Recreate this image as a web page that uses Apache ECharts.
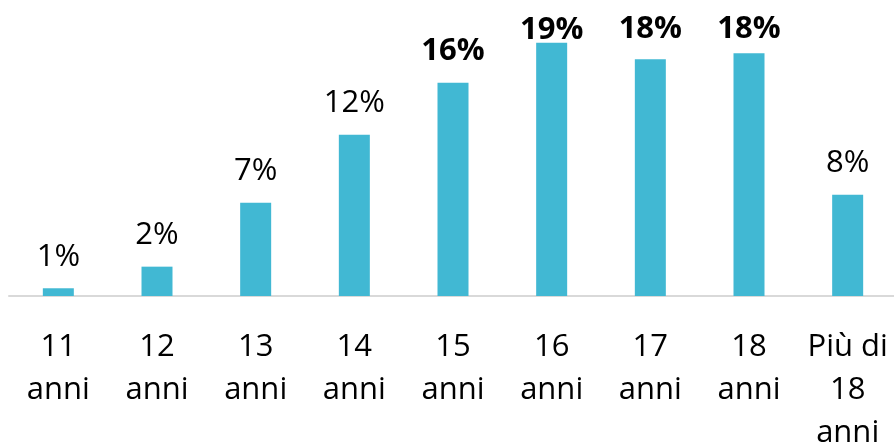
<!DOCTYPE html>
<html>
<head>
<meta charset="utf-8">
<script src="https://cdn.jsdelivr.net/npm/echarts@6/dist/echarts.min.js"></script>
<style>
  html, body { margin: 0; padding: 0; background: #fff; }
  #root { width: 894px; height: 448px; }
</style>
</head>
<body>
<div id="root"></div>
<script>
// categorie (fasce d'età)
const categories = ['11\nanni', '12\nanni', '13\nanni', '14\nanni', '15\nanni', '16\nanni', '17\nanni', '18\nanni', 'Più di\n18\nanni']
const values = [0.58, 2.2, 7.0, 12.1, 16.0, 19.0, 17.75, 18.2, 7.6]
// etichette mostrate sopra le barre
const labels = ['1%', '2%', '7%', '12%', '16%', '19%', '18%', '18%', '8%']
const boldLabels = [false, false, false, false, true, true, true, true, false]

const myChart = echarts.init(document.getElementById('root'))

const labelOffsets = [0, 0, 0, 0, 0, 19, 1, 7, 0]

const option = {
  animation: false,
  grid: { left: 9, width: 888, top: 29.3, bottom: 152, containLabel: false, outerBoundsMode: 'none' },
  xAxis: {
    type: 'category',
    data: categories,
    axisLine: { lineStyle: { color: '#D9D9D9', width: 2 } },
    axisTick: { show: false },
    axisLabel: {
      interval: 0,
      margin: 30,
      color: '#000',
      fontFamily: 'Open Sans',
      fontSize: 31,
      lineHeight: 43
    }
  },
  yAxis: {
    type: 'value',
    min: 0,
    max: 20,
    show: false,
    splitLine: { show: false }
  },
  series: [{
    type: 'bar',
    barWidth: 31,
    itemStyle: { color: '#41B8D3' },
    data: values.map((v, i) => ({
      value: v,
      label: {
        show: true,
        position: 'top',
        distance: 16,
        offset: [0, labelOffsets[i]],
        formatter: labels[i],
        color: '#000',
        fontFamily: 'Open Sans',
        fontSize: 31,
        fontWeight: boldLabels[i] ? 'bold' : 'normal'
      }
    }))
  }]
}

myChart.setOption(option)
</script>
</body>
</html>
